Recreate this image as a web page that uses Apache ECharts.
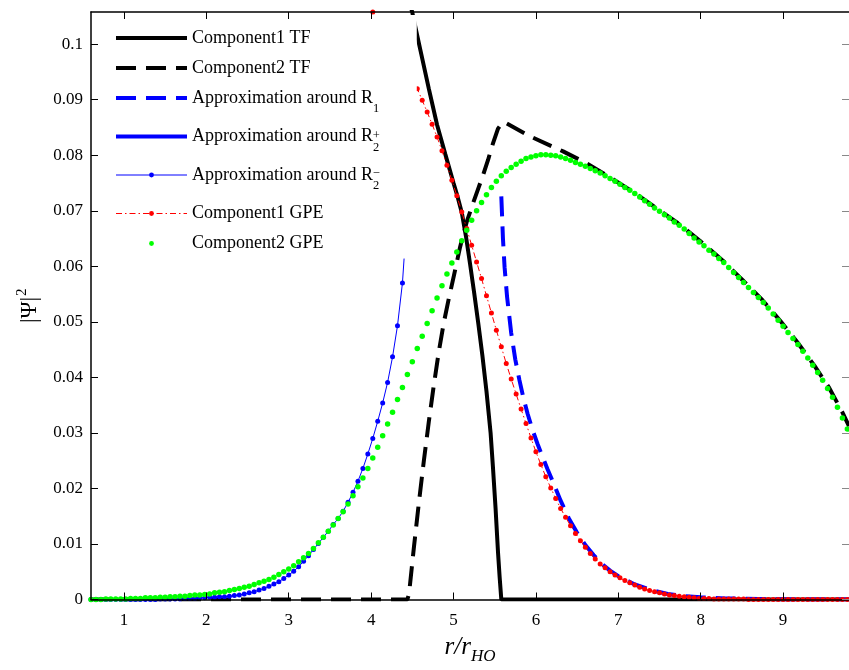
<!DOCTYPE html>
<html><head><meta charset="utf-8">
<script src="https://cdn.jsdelivr.net/npm/echarts@6/dist/echarts.min.js"></script>
<style>html,body{margin:0;padding:0;background:#fff}#c{width:849px;height:670px}</style>
</head><body><div id="c"></div><script>
// ---- data ----
const rGrid = [0.60,0.66,0.72,0.78,0.84,0.90,0.96,1.02,1.08,1.14,
1.20,1.26,1.32,1.38,1.44,1.50,1.56,1.62,1.68,1.74,
1.80,1.86,1.92,1.98,2.04,2.10,2.16,2.22,2.28,2.34,
2.40,2.46,2.52,2.58,2.64,2.70,2.76,2.82,2.88,2.94,
3.00,3.06,3.12,3.18,3.24,3.30,3.36,3.42,3.48,3.54,
3.60,3.66,3.72,3.78,3.84,3.90,3.96,4.02,4.08,4.14,
4.20,4.26,4.32,4.38,4.44,4.50,4.56,4.62,4.68,4.74,
4.80,4.86,4.92,4.98,5.04,5.10,5.16,5.22,5.28,5.34,
5.40,5.46,5.52,5.58,5.64,5.70,5.76,5.82,5.88,5.94,
6.00,6.06,6.12,6.18,6.24,6.30,6.36,6.42,6.48,6.54,
6.60,6.66,6.72,6.78,6.84,6.90,6.96,7.02,7.08,7.14,
7.20,7.26,7.32,7.38,7.44,7.50,7.56,7.62,7.68,7.74,
7.80,7.86,7.92,7.98,8.04,8.10,8.16,8.22,8.28,8.34,
8.40,8.46,8.52,8.58,8.64,8.70,8.76,8.82,8.88,8.94,
9.00,9.06,9.12,9.18,9.24,9.30,9.36,9.42,9.48,9.54,
9.60,9.66,9.72,9.78];

const gpe2Values = [0.0000,0.0000,0.0000,0.0001,0.0001,0.0001,0.0001,0.0001,0.0002,0.0002,
0.0002,0.0003,0.0003,0.0003,0.0004,0.0004,0.0005,0.0005,0.0006,0.0006,
0.0007,0.0008,0.0008,0.0009,0.0010,0.0012,0.0013,0.0014,0.0016,0.0018,
0.0020,0.0022,0.0024,0.0027,0.0030,0.0033,0.0036,0.0040,0.0045,0.0050,
0.0055,0.0061,0.0068,0.0075,0.0083,0.0092,0.0102,0.0112,0.0123,0.0134,
0.0146,0.0158,0.0172,0.0187,0.0203,0.0219,0.0236,0.0255,0.0274,0.0295,
0.0316,0.0337,0.0360,0.0382,0.0405,0.0428,0.0452,0.0474,0.0497,0.0520,
0.0543,0.0565,0.0586,0.0606,0.0626,0.0646,0.0665,0.0683,0.0700,0.0715,
0.0729,0.0742,0.0753,0.0763,0.0771,0.0778,0.0784,0.0789,0.0794,0.0797,
0.0799,0.0801,0.0801,0.0800,0.0799,0.0797,0.0794,0.0791,0.0787,0.0784,
0.0780,0.0776,0.0772,0.0768,0.0763,0.0758,0.0753,0.0748,0.0742,0.0737,
0.0731,0.0725,0.0718,0.0712,0.0705,0.0699,0.0693,0.0687,0.0680,0.0674,
0.0667,0.0659,0.0651,0.0644,0.0637,0.0629,0.0622,0.0614,0.0607,0.0598,
0.0589,0.0580,0.0571,0.0562,0.0553,0.0544,0.0535,0.0525,0.0514,0.0503,
0.0492,0.0481,0.0470,0.0459,0.0447,0.0435,0.0422,0.0409,0.0395,0.0380,
0.0364,0.0346,0.0327,0.0307];

const gpe1Values = [null,null,null,null,null,null,null,null,null,null,
null,null,null,null,null,null,null,null,null,null,
null,null,null,null,null,null,null,null,null,null,
null,null,null,null,null,null,null,null,null,null,
null,null,null,null,null,null,null,null,null,null,
null,null,null,null,null,null,0.1069,0.1058,0.1046,0.1033,
0.1019,0.1004,0.0989,0.0973,0.0956,0.0938,0.0920,0.0899,0.0878,0.0856,
0.0833,0.0808,0.0782,0.0755,0.0727,0.0698,0.0668,0.0638,0.0608,0.0578,
0.0547,0.0516,0.0485,0.0455,0.0425,0.0397,0.0370,0.0343,0.0317,0.0291,
0.0266,0.0243,0.0221,0.0201,0.0182,0.0164,0.0148,0.0133,0.0119,0.0106,
0.0094,0.0083,0.0073,0.0064,0.0057,0.0050,0.0044,0.0039,0.0034,0.0030,
0.0026,0.0022,0.0019,0.0016,0.0014,0.0012,0.0010,0.0008,0.0007,0.0006,
0.0005,0.0004,0.0003,0.0002,0.0002,0.0002,0.0001,0.0001,0.0001,0.0001,
0.0001,0.0001,0.0001,0.0000,0.0000,0.0000,0.0000,0.0000,0.0000,0.0000,
0.0000,0.0000,0.0000,0.0000,0.0000,0.0000,0.0000,0.0000,0.0000,0.0000,
0.0000,0.0000,0.0000,0.0000];

const approxR2mValues = [0,0,0,0,0,0,0,0,0,0,
0,0,0,0,0.0001,0.0001,0.0001,0.0001,0.0001,0.0002,
0.0002,0.0002,0.0003,0.0003,0.0004,0.0004,0.0005,0.0005,0.0006,0.0007,
0.0008,0.0010,0.0012,0.0014,0.0017,0.0020,0.0024,0.0028,0.0032,0.0038,
0.0044,0.0051,0.0059,0.0069,0.0079,0.0090,0.0101,0.0112,0.0123,0.0135,
0.0146,0.0159,0.0175,0.0193,0.0213,0.0236,0.0262,0.0290,0.0321,0.0354,
0.0391,0.0437,0.0493,0.0570];
const approxR2mEnd = [4.40, 0.0614];

const tf1R = [4.30,4.40,4.50,4.55,4.60,4.70,4.80,4.90,5.00,5.05,5.10,5.15,5.20,5.25,5.30,5.35,5.40,5.45,5.48,5.51,5.54,5.56,5.58,9.80];
const tf1Values = [0.1170,0.1112,0.1057,0.1022,0.0988,0.0920,0.0855,0.0802,0.0750,0.0725,0.0697,0.0655,0.0605,0.0553,0.0498,0.0440,0.0375,0.0300,0.0235,0.0165,0.0085,0.0040,0.0000,0.0000];

const tf2R = [0.60,4.44,4.46,4.52,4.58,4.64,4.70,4.76,4.82,4.88,4.94,5.00,5.08,5.16,5.24,5.30,5.36,5.42,5.48,5.54,5.60,5.64,5.93,6.33,6.61,6.90,7.18,7.46,7.72,7.99,8.27,8.51,8.75,8.97,9.18,9.38,9.56,9.72,9.80];
const tf2Values = [0,0,0.0010,0.0095,0.0175,0.0250,0.0320,0.0385,0.0445,0.0497,0.0540,0.0580,0.0635,0.0680,0.0715,0.0740,0.0765,0.0792,0.0822,0.0848,0.0860,0.0858,0.0834,0.0807,0.0786,0.0760,0.0734,0.0705,0.0678,0.0646,0.0610,0.0575,0.0539,0.0501,0.0462,0.0421,0.0381,0.0337,0.0312];

const approxR1R = [5.58,5.60,5.62,5.65,5.70,5.75,5.80,5.85,5.90,5.96,6.02,6.08,6.14,6.20,6.30,6.40,6.50,6.60,6.70,6.80,6.90,7.00,7.20,7.40,7.60,7.80,8.00,8.30,8.70,9.20,9.80];
const approxR1Values = [0.0726,0.0650,0.0598,0.0545,0.0480,0.0432,0.0395,0.0362,0.0334,0.0305,0.0280,0.0257,0.0235,0.0214,0.0178,0.0146,0.0120,0.0098,0.0080,0.0064,0.0052,0.0042,0.0027,0.0017,0.0010,0.0006,0.0004,0.0002,0.0001,0.0000,0.0000];

const approxR2pR = [];
const approxR2pValues = [];

const xTicks = [1,2,3,4,5,6,7,8,9];
const yTicks = [0,0.01,0.02,0.03,0.04,0.05,0.06,0.07,0.08,0.09,0.1];

const names = ['Component1 TF','Component2 TF','Approximation around R1','Approximation around R2+','Approximation around R2-','Component1 GPE','Component2 GPE'];
const legendLabels = {
  'Component1 TF':'{t|Component1 TF}',
  'Component2 TF':'{t|Component2 TF}',
  'Approximation around R1':'{a|Approximation around R}{sub|1}',
  'Approximation around R2+':'{b|Approximation around R}{sub|2}{sup|+}',
  'Approximation around R2-':'{c|Approximation around R}{sub|2}{sup|\u2212}',
  'Component1 GPE':'{t|Component1 GPE}',
  'Component2 GPE':'{t|Component2 GPE}'
};
const colors = ['#000000','#000000','#0000ff','#0000ff','#0000ff','#ff0000','#00ff00'];
const noMarkerInLegend = ['Component1 TF','Component2 TF','Approximation around R1','Approximation around R2+'];

// ---- build ----
function zip(xs, ys){ const out=[]; for(let i=0;i<xs.length;i++){ if(ys[i]!==null && ys[i]!==undefined) out.push([xs[i], ys[i]]);} return out; }
const FONT = 'Liberation Serif';
const xMin = 0.6, xMax = 9.8, yMin = 0, yMax = 0.1058;

const r2mData = zip(rGrid, approxR2mValues);
r2mData.push({value: approxR2mEnd, symbol: 'none'});

const axisCommon = {
  type: 'value', z: 10,
  axisLine: {show: true, onZero: false, lineStyle: {color: '#000', width: 1.5}},
  splitLine: {show: false}
};

const legendData = names.map((n, i) => {
  const item = {name: n, lineStyle: {color: colors[i]}};
  if (noMarkerInLegend.indexOf(n) >= 0) item.itemStyle = {opacity: 0};
  return item;
});

const chart = echarts.init(document.getElementById('c'), null, {renderer: 'canvas'});
chart.setOption({
  animation: false,
  backgroundColor: '#fff',
  grid: {left: 91, right: 0, top: 12, bottom: 64, containLabel: false},
  legend: {
    data: legendData,
    orient: 'vertical',
    left: 92, top: 15,
    padding: [14, 37, 4, 22],
    itemGap: 12,
    itemWidth: 71, itemHeight: 6,
    backgroundColor: '#fff',
    borderWidth: 0,
    selectedMode: false,
    lineStyle: {width: 'inherit'},
    formatter: n => legendLabels[n],
    textStyle: {
      fontFamily: FONT, fontSize: 18, color: '#000',
      rich: {
        t: {fontFamily: FONT, fontSize: 18, lineHeight: 20, color: '#000'},
        a: {fontFamily: FONT, fontSize: 18, lineHeight: 22, color: '#000'},
        b: {fontFamily: FONT, fontSize: 18, lineHeight: 34, color: '#000'},
        c: {fontFamily: FONT, fontSize: 18, lineHeight: 28, color: '#000'},
        sub: {fontFamily: FONT, fontSize: 12.5, lineHeight: 10, color: '#000', padding: [11, 0, -11, 0]},
        sup: {fontFamily: FONT, fontSize: 12.5, lineHeight: 10, color: '#000', padding: [-1, 0, 1, -6.5]}
      }
    }
  },
  xAxis: [
    Object.assign({}, axisCommon, {
      min: xMin, max: xMax, position: 'bottom',
      axisTick: {show: true, inside: true, length: 7, customValues: xTicks, lineStyle: {color: '#000', width: 1}},
      axisLabel: {show: true, customValues: xTicks, fontFamily: FONT, fontSize: 17, color: '#000', margin: 13},
      name: '{i|r/r}{s|HO}', nameLocation: 'middle', nameGap: 33,
      nameTextStyle: {rich: {
        i: {fontFamily: FONT, fontStyle: 'italic', fontSize: 25, lineHeight: 30, color: '#000'},
        s: {fontFamily: FONT, fontStyle: 'italic', fontSize: 17, lineHeight: 10, color: '#000', padding: [9, 0, -9, 0]}
      }}
    }),
    Object.assign({}, axisCommon, {
      min: xMin, max: xMax, position: 'top',
      axisTick: {show: true, inside: true, length: 7, customValues: xTicks, lineStyle: {color: '#000', width: 1}},
      axisLabel: {show: false}
    })
  ],
  yAxis: [
    Object.assign({}, axisCommon, {
      min: yMin, max: yMax, position: 'left',
      axisTick: {show: true, inside: true, length: 7, customValues: yTicks, lineStyle: {color: '#000', width: 1}},
      axisLabel: {show: true, customValues: yTicks, fontFamily: FONT, fontSize: 17, color: '#000', margin: 8,
        formatter: v => String(+(+v).toFixed(3))},
      name: '{n||\u03A8|}{p|2}', nameLocation: 'middle', nameGap: 47, nameRotate: 90,
      nameTextStyle: {rich: {
        n: {fontFamily: FONT, fontSize: 23, lineHeight: 28, color: '#000'},
        p: {fontFamily: FONT, fontSize: 15, lineHeight: 10, color: '#000', padding: [-8, 0, 8, 1]}
      }}
    }),
    Object.assign({}, axisCommon, {
      min: yMin, max: yMax, position: 'right',
      axisLine: {show: false, onZero: false},
      axisTick: {show: true, inside: true, length: 7, customValues: yTicks, lineStyle: {color: '#888', width: 1}},
      axisLabel: {show: false}
    })
  ],
  series: [
    {name: names[0], type: 'line', data: zip(tf1R, tf1Values), symbol: 'none',
      lineStyle: {color: colors[0], width: 4}, itemStyle: {color: colors[0]}},
    {name: names[1], type: 'line', data: zip(tf2R, tf2Values), symbol: 'none',
      lineStyle: {color: colors[1], width: 4, type: [20, 10]}, itemStyle: {color: colors[1]}},
    {name: names[2], type: 'line', data: zip(approxR1R, approxR1Values), symbol: 'none',
      lineStyle: {color: colors[2], width: 4, type: [20, 10]}, itemStyle: {color: colors[2]}},
    {name: names[3], type: 'line', data: zip(approxR2pR, approxR2pValues), symbol: 'none',
      lineStyle: {color: colors[3], width: 4}, itemStyle: {color: colors[3]}},
    {name: names[4], type: 'line', data: r2mData, symbol: 'circle', symbolSize: 5,
      lineStyle: {color: colors[4], width: 1}, itemStyle: {color: colors[4]}},
    {name: names[5], type: 'line', data: zip(rGrid, gpe1Values), symbol: 'circle', symbolSize: 5,
      lineStyle: {color: colors[5], width: 1, type: [6, 3, 1.5, 3]}, itemStyle: {color: colors[5]}},
    {name: names[6], type: 'line', data: zip(rGrid, gpe2Values), symbol: 'circle', symbolSize: 5.5,
      lineStyle: {color: colors[6], width: 0}, itemStyle: {color: colors[6]}}
  ]
});
</script></body></html>
